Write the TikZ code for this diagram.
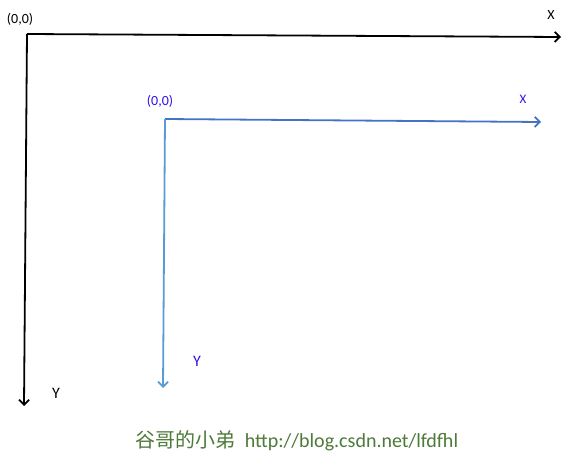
\documentclass[tikz,border=0pt]{standalone}
\usepackage{fontspec}
\setmainfont{Carlito}
\newfontfamily\cjk{Noto Sans CJK SC}
\usetikzlibrary{arrows.meta}
\definecolor{bluedark}{HTML}{4472C4}
\definecolor{bluelight}{HTML}{5B9BD5}
\definecolor{labblue}{HTML}{3311EE}
\definecolor{foot}{HTML}{4E7A3A}
\begin{document}
\begin{tikzpicture}[x=1pt,y=-1pt,
  axis/.style={line width=1.8pt,-{Straight Barb[length=5pt,width=10pt]}},
  lab/.style={inner sep=0pt,font=\fontsize{14}{16}\selectfont},
  ylab/.style={inner sep=0pt,font=\fontsize{16}{18}\selectfont}]
\useasboundingbox (0,0) rectangle (570,455);
\fill[white] (0,0) rectangle (570,455);
% black axes
\coordinate (O1) at (27,34);
\coordinate (X1) at (561,37);
\coordinate (Y1) at (24,406);
\draw[axis,black] (O1) -- (X1);
\draw[axis,black] (O1) -- (Y1);
\node[lab] (o1) at (20,19) {(0,0)};
\node[lab] (x1) at (551,15) {X};
\node[ylab] (y1) at (56,393) {Y};
% blue axes
\coordinate (O2) at (165,119);
\coordinate (X2) at (541,122);
\coordinate (Y2) at (163,388);
\draw[axis,bluedark] (O2) -- (X2);
\draw[axis,bluelight] (O2) -- (Y2);
\node[lab,text=labblue] (o2) at (160,101) {(0,0)};
\node[lab,text=labblue,font=\fontsize{13}{15}\selectfont] (x2) at (523,99) {X};
\node[ylab,text=labblue] (y2) at (197,361) {Y};
% footer
\node[inner sep=0pt,text=foot,font=\fontsize{20}{22}\selectfont] (foot) at (297,441) {{\cjk 谷哥的小弟}\ \ http://blog.csdn.net/lfdfhl};
\end{tikzpicture}
\end{document}
